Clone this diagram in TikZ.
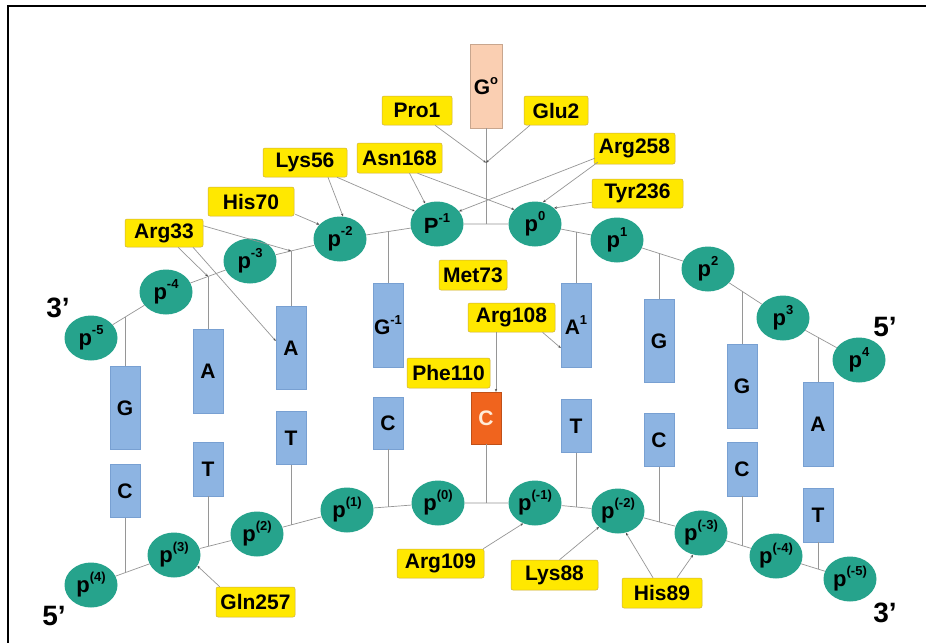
\documentclass[tikz,border=0pt]{standalone}
\usepackage{fontspec}
\setmainfont{Liberation Sans}
\usetikzlibrary{shapes.geometric,calc,arrows.meta}
\definecolor{phcol}{RGB}{38,163,140}
\definecolor{basecol}{RGB}{141,180,226}
\definecolor{basedraw}{RGB}{120,160,210}
\definecolor{peach}{RGB}{250,207,178}
\definecolor{orangec}{RGB}{240,100,30}
\definecolor{laby}{RGB}{255,232,0}
\definecolor{labd}{RGB}{205,175,60}
\definecolor{lineg}{RGB}{150,150,150}
\newcommand{\su}[1]{\raisebox{0.5em}{\fontsize{13}{13}\selectfont #1}}
\begin{document}
\begin{tikzpicture}[x=1pt,y=-1pt,
  lab/.style={draw=labd, fill=laby, rounded corners=2pt, line width=0.5pt, minimum height=29pt, inner sep=0pt, font=\fontsize{21}{21}\selectfont\bfseries},
  ph/.style={ellipse, fill=phcol, minimum width=53pt, minimum height=45pt, inner sep=0pt, font=\fontsize{22}{22}\selectfont\bfseries},
  nb/.style={rectangle, fill=basecol, draw=basedraw, line width=0.4pt, minimum width=30pt, inner sep=0pt, font=\fontsize{21}{21}\selectfont\bfseries},
  bb/.style={draw=lineg, line width=0.7pt},
  cn/.style={draw=lineg, line width=0.7pt, -{Stealth[length=3pt,width=2.4pt,color=black!70]}},
  endlab/.style={font=\fontsize{28}{28}\selectfont\bfseries, inner sep=0pt}
]
\useasboundingbox (0,0) rectangle (926,643);
\fill[white] (0,0) rectangle (926,643);
\draw[line width=2pt] (926,6) -- (8,6) -- (8,643);

% top strand phosphates
\node[ph] (pm5) at (91,338) {p\su{-5}};
\node[ph] (pm4) at (166,292) {p\su{-4}};
\node[ph] (pm3) at (250,261) {p\su{-3}};
\node[ph] (pm2) at (340,239) {p\su{-2}};
\node[ph] (Pm1) at (437,224) {P\su{-1}};
\node[ph] (p0) at (535,224) {p\su{0}};
\node[ph] (p1) at (617,240) {p\su{1}};
\node[ph] (p2) at (708,269) {p\su{2}};
\node[ph] (p3) at (783,318) {p\su{3}};
\node[ph] (p4) at (859,360) {p\su{4}};
% bottom strand phosphates
\node[ph] (q4) at (91,585) {p\su{(4)}};
\node[ph] (q3) at (174,555) {p\su{(3)}};
\node[ph] (q2) at (257,534) {p\su{(2)}};
\node[ph] (q1) at (347,510) {p\su{(1)}};
\node[ph] (q0) at (438,503) {p\su{(0)}};
\node[ph] (qm1) at (535,503) {p\su{(-1)}};
\node[ph] (qm2) at (618,511) {p\su{(-2)}};
\node[ph] (qm3) at (701,533) {p\su{(-3)}};
\node[ph] (qm4) at (776,556) {p\su{(-4)}};
\node[ph] (qm5) at (850,579) {p\su{(-5)}};

% bases
\node[nb, minimum height=83pt] (B1) at (125,408) {G};
\node[nb, minimum height=53pt] (D1) at (125,491) {C};
\node[nb, minimum height=84pt] (B2) at (208,371) {A};
\node[nb, minimum height=54pt] (D2) at (208,469) {T};
\node[nb, minimum height=83pt] (B3) at (291,348) {A};
\node[nb, minimum height=53pt] (D3) at (291,438) {T};
\node[nb, minimum height=84pt] (B4) at (388,325) {G\su{-1}};
\node[nb, minimum height=52pt] (D4) at (388,423) {C};
\node[nb, fill=peach, draw=peach!80!black, minimum width=32pt, minimum height=84pt] (B5) at (486,86) {G\su{o}};
\node[nb, fill=orangec, draw=orangec!80!black, text=white!85!orange, minimum height=52pt] (D5) at (486,418) {C};
\node[nb, minimum height=84pt] (B6) at (576,325) {A\su{1}};
\node[nb, minimum height=53pt] (D6) at (576,426) {T};
\node[nb, minimum height=83pt] (B7) at (659,341) {G};
\node[nb, minimum height=53pt] (D7) at (659,440) {C};
\node[nb, minimum height=84pt] (B8) at (742,386) {G};
\node[nb, minimum height=54pt] (D8) at (742,469) {C};
\node[nb, minimum height=84pt] (B9) at (818,424) {A};
\node[nb, minimum height=54pt] (D9) at (818,515) {T};

% backbone
\draw[bb] (pm5) -- (pm4) -- (pm3) -- (pm2) -- (Pm1) -- (p0) -- (p1) -- (p2) -- (p3) -- (p4);
\draw[bb] (q4) -- (q3) -- (q2) -- (q1) -- (q0) -- (qm1) -- (qm2) -- (qm3) -- (qm4) -- (qm5);

% junctions
\coordinate (j1) at ($(pm5)!0.453!(pm4)$);
\coordinate (j2) at ($(pm4)!0.5!(pm3)$);
\coordinate (j3) at ($(pm3)!0.456!(pm2)$);
\coordinate (j4) at ($(pm2)!0.495!(Pm1)$);
\coordinate (j5) at ($(Pm1)!0.5!(p0)$);
\coordinate (j6) at ($(p0)!0.5!(p1)$);
\coordinate (j7) at ($(p1)!0.46!(p2)$);
\coordinate (j8) at ($(p2)!0.453!(p3)$);
\coordinate (j9) at ($(p3)!0.46!(p4)$);
\coordinate (k1) at ($(q4)!0.41!(q3)$);
\coordinate (k2) at ($(q3)!0.41!(q2)$);
\coordinate (k3) at ($(q2)!0.378!(q1)$);
\coordinate (k4) at ($(q1)!0.45!(q0)$);
\coordinate (k5) at ($(q0)!0.495!(qm1)$);
\coordinate (k6) at ($(qm1)!0.494!(qm2)$);
\coordinate (k7) at ($(qm2)!0.494!(qm3)$);
\coordinate (k8) at ($(qm3)!0.547!(qm4)$);
\coordinate (k9) at ($(qm4)!0.568!(qm5)$);
\foreach \i in {1,2,3,4,6,7,8,9}{
  \draw[bb] (B\i.north) -- (B\i.north |- j\i);
}
\draw[bb] (B5.south) -- (B5.south |- j5);
\foreach \i in {1,...,9}{
  \draw[bb] (D\i.south) -- (D\i.south |- k\i);
}
\coordinate (gj) at ($(B5.south)!0.36!(B5.south |- j5)$);

% labels
\node[lab, minimum width=70pt] (Pro1) at (417,110.5) {Pro1};
\node[lab, minimum width=64pt] (Glu2) at (556,110.5) {Glu2};
\node[lab, minimum width=81pt, minimum height=31pt] (Arg258) at (634.5,148.5) {Arg258};
\node[lab, minimum width=91pt] (Tyr236) at (637.5,193.5) {Tyr236};
\node[lab, minimum width=85pt, minimum height=30pt] (Asn168) at (399.5,158) {Asn168};
\node[lab, minimum width=84pt] (Lys56) at (305,162.5) {Lys56};
\node[lab, minimum width=86pt] (His70) at (251,201.5) {His70};
\node[lab, minimum width=78pt, minimum height=28pt] (Arg33) at (164,233) {Arg33};
\node[lab, minimum width=68pt, minimum height=30pt] (Met73) at (473,275) {Met73};
\node[lab, minimum width=87pt] (Arg108) at (511.5,317.5) {Arg108};
\node[lab, minimum width=83pt, minimum height=30pt] (Phe110) at (448.5,373) {Phe110};
\node[lab, minimum width=87pt] (Arg109) at (440.5,563.5) {Arg109};
\node[lab, minimum width=87pt, minimum height=30pt] (Lys88) at (554.5,575) {Lys88};
\node[lab, minimum width=80pt, minimum height=30pt] (His89) at (662,593) {His89};
\node[lab, minimum width=79pt, minimum height=30pt] (Gln257) at (255.5,602) {Gln257};

% label connectors
\draw[cn] ($(Pro1.south)+(18,0)$) -- (gj);
\draw[cn] ($(Glu2.south)+(-26,0)$) -- (gj);
\draw[cn] ($(Lys56.south)+(23,0)$) -- ($(pm2.north)+(3,0)$);
\draw[cn] ($(Lys56.south)+(32,0)$) -- (Pm1.150);
\draw[cn] ($(Asn168.south)+(10,0)$) -- (Pm1.120);
\draw[cn] ($(Asn168.south)+(18,0)$) -- (p0.145);
\draw[cn] ($(Arg258.south west)+(1,-6)$) -- (Pm1.30);
\draw[cn] ($(Arg258.south west)+(4,-2)$) -- (p0.70);
\draw[cn] ($(Tyr236.south west)+(0,-6)$) -- (p0.40);
\draw[cn] ($(His70.south east)+(1,-2)$) -- (pm2.145);
\draw[cn] ($(Arg33.north east)+(0,7)$) -- (j3);
\draw[cn] ($(Arg33.south)+(14,0)$) -- (j2);
\draw[cn] ($(Arg33.south)+(29,0)$) -- ($(B3.west)+(0,-7)$);
\draw[cn] ($(Arg108.south)+(-15.5,0)$) -- ($(D5.north)+(10,0)$);
\draw[cn] ($(Arg108.south)+(31,0)$) -- ($(B6.west)+(0,23)$);
\draw[cn] ($(Arg109.north east)+(-1,0)$) -- (qm1.240);
\draw[cn] ($(Lys88.north)+(5,0)$) -- (qm2.220);
\draw[cn] ($(His89.north)+(-9,0)$) -- (qm2.290);
\draw[cn] ($(His89.north)+(15,0)$) -- (qm3.250);
\draw[cn] ($(Gln257.north west)+(4,0)$) -- (q3.335);

% strand ends
\node[endlab] (e3l) at (58,308) {3’};
\node[endlab] (e5l) at (54,616) {5’};
\node[endlab] (e5r) at (885,327) {5’};
\node[endlab] (e3r) at (885,613) {3’};
\end{tikzpicture}
\end{document}
